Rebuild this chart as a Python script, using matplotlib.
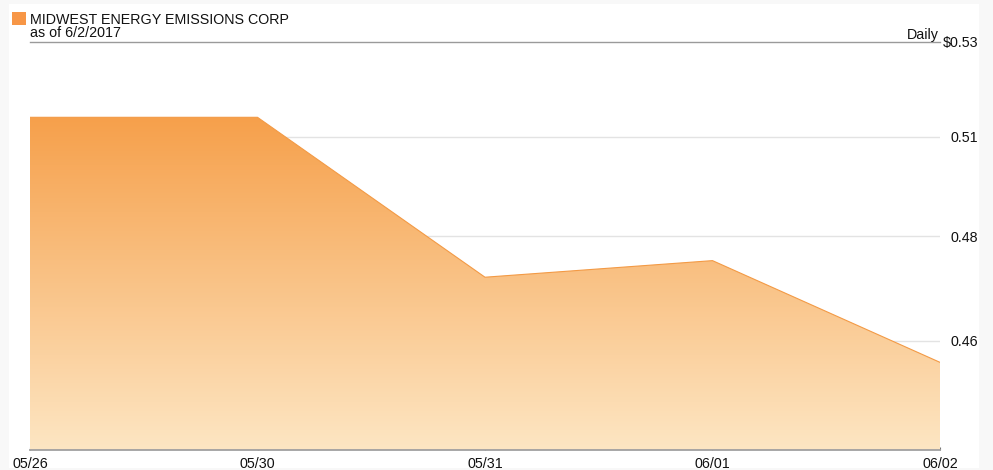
import numpy as np
import matplotlib
matplotlib.use('Agg')
from matplotlib import pyplot as plt
from matplotlib.patches import Rectangle

# data
dates = ['05/26', '05/30', '05/31', '06/01', '06/02']
prices = [0.51, 0.51, 0.47, 0.474, 0.45]
ytick_vals = [0.53, 0.505, 0.48, 0.455]
ytick_labels = ['$0.53', '0.51', '0.48', '0.46']
title = 'MIDWEST ENERGY EMISSIONS CORP'
subtitle = 'as of 6/2/2017'

W, H = 993, 470
plt.rcParams['font.family'] = ['Liberation Sans', 'DejaVu Sans']
fig = plt.figure(figsize=(W / 100, H / 100), dpi=100, facecolor='#f8f8f8')

# white panel
fig.patches.append(Rectangle((9 / W, 1 - 468 / H), 970 / W, 464 / H,
                             transform=fig.transFigure, facecolor='white',
                             edgecolor='none', zorder=-1))

ax = fig.add_axes([30 / W, 1 - 450 / H, 910 / W, 408 / H])
ax.set_facecolor('none')
ax.set_yscale('log')
ax.set_ylim(0.4303, 0.53)
x = np.arange(len(dates))
ax.set_xlim(x[0], x[-1])

# gradient fill clipped to the area
poly = ax.fill_between(x, prices, 0.4303, facecolor='none', edgecolor='none')
grad = np.linspace(0, 1, 256).reshape(-1, 1)
top_c = np.array([246, 160, 75]) / 255
bot_c = np.array([253, 230, 195]) / 255
img = top_c * (1 - grad[..., None]) + bot_c * grad[..., None]
img = np.repeat(img, 2, axis=1)
top_frac = (np.log(max(prices)) - np.log(0.4303)) / (np.log(0.53) - np.log(0.4303))
im = ax.imshow(img, extent=[0, 1, 0, top_frac], transform=ax.transAxes,
               aspect='auto', zorder=2, interpolation='bilinear')
im.set_clip_path(poly.get_paths()[0], transform=ax.transData)
ax.plot(x, prices, color='#f39a45', lw=0.8, zorder=3)

# grid
for v in ytick_vals[1:]:
    ax.axhline(v, color='#e3e3e3', lw=1, zorder=1)

for s in ['left', 'right']:
    ax.spines[s].set_visible(False)
ax.spines['top'].set_color('#9a9a9a')
ax.spines['top'].set_linewidth(1)
ax.spines['bottom'].set_color('#a0a0a0')
ax.spines['bottom'].set_linewidth(1.3)

ax.set_xticks(x)
ax.set_xticklabels(dates, fontsize=10.3, color='#111111')
ax.tick_params(axis='x', length=2, direction='in', color='#777777', pad=5)

ax.yaxis.tick_right()
ax.minorticks_off()
ax.set_yticks(ytick_vals)
ax.set_yticklabels(ytick_labels, fontsize=10.3, color='#111111')
ax.tick_params(axis='y', which='both', length=0, pad=27.5)
for lab in ax.get_yticklabels():
    lab.set_horizontalalignment('right')

# header
fig.patches.append(Rectangle((12 / W, 1 - 25 / H), 14 / W, 13 / H,
                             transform=fig.transFigure, facecolor='#f79646',
                             edgecolor='none'))
fig.text(30 / W, 1 - 24 / H, title, fontsize=10.3, color='#111111', va='baseline')
fig.text(30 / W, 1 - 37 / H, subtitle, fontsize=10.3, color='#111111', va='baseline')
fig.text(939 / W, 1 - 39 / H, 'Daily', fontsize=10.3, color='#111111',
         va='baseline', ha='right')

fig.savefig('out.png', dpi=100, facecolor=fig.get_facecolor())
